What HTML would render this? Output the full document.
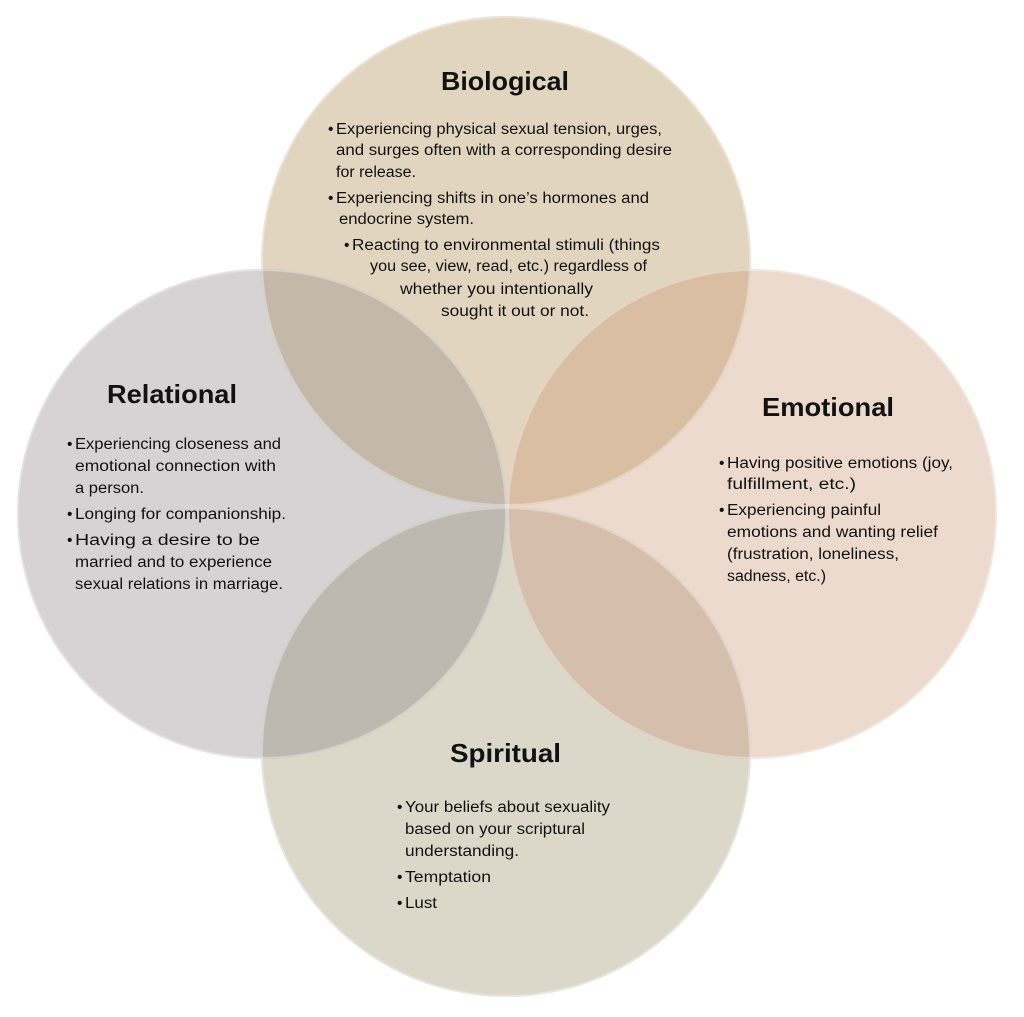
<!DOCTYPE html>
<html><head><meta charset="utf-8"><style>html,body{margin:0;padding:0;background:#fff}svg{display:block}</style></head>
<body>
<svg width="1024" height="1017" viewBox="0 0 1024 1017" xmlns="http://www.w3.org/2000/svg">
<defs>
<clipPath id="cT"><circle cx="506" cy="261" r="245"/></clipPath>
<clipPath id="cB"><circle cx="506" cy="752" r="245"/></clipPath>
</defs>
<circle cx="506" cy="261" r="245" fill="#e2d5bf"/>
<circle cx="262" cy="514" r="245" fill="#d7d2d3"/>
<circle cx="752" cy="514" r="245" fill="#ecdace"/>
<circle cx="506" cy="752" r="245" fill="#dbd8ca"/>
<g clip-path="url(#cT)">
<circle cx="262" cy="514" r="245" fill="#c3b8aa"/>
<circle cx="752" cy="514" r="245" fill="#d9bea3"/>
</g>
<g clip-path="url(#cB)">
<circle cx="262" cy="514" r="245" fill="#bdb8b0"/>
<circle cx="752" cy="514" r="245" fill="#d5beab"/>
</g>
<g fill="none" stroke="#ffffff" stroke-opacity="0.35" stroke-width="2">
<circle cx="506" cy="261" r="244"/>
<circle cx="262" cy="514" r="244"/>
<circle cx="752" cy="514" r="244"/>
<circle cx="506" cy="752" r="244"/>
</g>
<g font-family="Liberation Sans, sans-serif" fill="#111">
<g font-weight="bold" font-size="26">
<text x="441" y="90" textLength="128" lengthAdjust="spacingAndGlyphs">Biological</text>
<text x="107" y="403" textLength="130" lengthAdjust="spacingAndGlyphs">Relational</text>
<text x="762" y="416" textLength="132" lengthAdjust="spacingAndGlyphs">Emotional</text>
<text x="450" y="762" textLength="111" lengthAdjust="spacingAndGlyphs">Spiritual</text>
</g>
<g font-size="15.5" lengthAdjust="spacingAndGlyphs">
<text x="328" y="134">•</text>
<text x="336" y="134" textLength="326" lengthAdjust="spacingAndGlyphs">Experiencing physical sexual tension, urges,</text>
<text x="336" y="155" textLength="336" lengthAdjust="spacingAndGlyphs">and surges often with a corresponding desire</text>
<text x="336" y="177" textLength="80" lengthAdjust="spacingAndGlyphs">for release.</text>
<text x="328" y="203">•</text>
<text x="336" y="203" textLength="313" lengthAdjust="spacingAndGlyphs">Experiencing shifts in one’s hormones and</text>
<text x="339" y="224" textLength="135" lengthAdjust="spacingAndGlyphs">endocrine system.</text>
<text x="344" y="250">•</text>
<text x="352" y="250" textLength="308" lengthAdjust="spacingAndGlyphs">Reacting to environmental stimuli (things</text>
<text x="370" y="271" textLength="277" lengthAdjust="spacingAndGlyphs">you see, view, read, etc.) regardless of</text>
<text x="400" y="294" textLength="193" lengthAdjust="spacingAndGlyphs">whether you intentionally</text>
<text x="441" y="316" textLength="148" lengthAdjust="spacingAndGlyphs">sought it out or not.</text>

<text x="67" y="449">•</text>
<text x="75" y="449" textLength="206" lengthAdjust="spacingAndGlyphs">Experiencing closeness and</text>
<text x="75" y="471" textLength="201" lengthAdjust="spacingAndGlyphs">emotional connection with</text>
<text x="75" y="493" textLength="69" lengthAdjust="spacingAndGlyphs">a person.</text>
<text x="67" y="519">•</text>
<text x="75" y="519" textLength="211" lengthAdjust="spacingAndGlyphs">Longing for companionship.</text>
<text x="67" y="545">•</text>
<text x="75" y="545" textLength="185" lengthAdjust="spacingAndGlyphs">Having a desire to be</text>
<text x="75" y="567" textLength="197" lengthAdjust="spacingAndGlyphs">married and to experience</text>
<text x="75" y="589" textLength="208" lengthAdjust="spacingAndGlyphs">sexual relations in marriage.</text>

<text x="719" y="468">•</text>
<text x="727" y="468" textLength="226" lengthAdjust="spacingAndGlyphs">Having positive emotions (joy,</text>
<text x="727" y="489" textLength="129" lengthAdjust="spacingAndGlyphs">fulfillment, etc.)</text>
<text x="719" y="515">•</text>
<text x="727" y="515" textLength="154" lengthAdjust="spacingAndGlyphs">Experiencing painful</text>
<text x="727" y="537" textLength="211" lengthAdjust="spacingAndGlyphs">emotions and wanting relief</text>
<text x="727" y="559" textLength="172" lengthAdjust="spacingAndGlyphs">(frustration, loneliness,</text>
<text x="727" y="581" textLength="99" lengthAdjust="spacingAndGlyphs">sadness, etc.)</text>

<text x="397" y="812">•</text>
<text x="405" y="812" textLength="205" lengthAdjust="spacingAndGlyphs">Your beliefs about sexuality</text>
<text x="405" y="834" textLength="180" lengthAdjust="spacingAndGlyphs">based on your scriptural</text>
<text x="405" y="856" textLength="114" lengthAdjust="spacingAndGlyphs">understanding.</text>
<text x="397" y="882">•</text>
<text x="405" y="882" textLength="86" lengthAdjust="spacingAndGlyphs">Temptation</text>
<text x="397" y="908">•</text>
<text x="405" y="908" textLength="32" lengthAdjust="spacingAndGlyphs">Lust</text>
</g>
</g>
</svg>
</body></html>
